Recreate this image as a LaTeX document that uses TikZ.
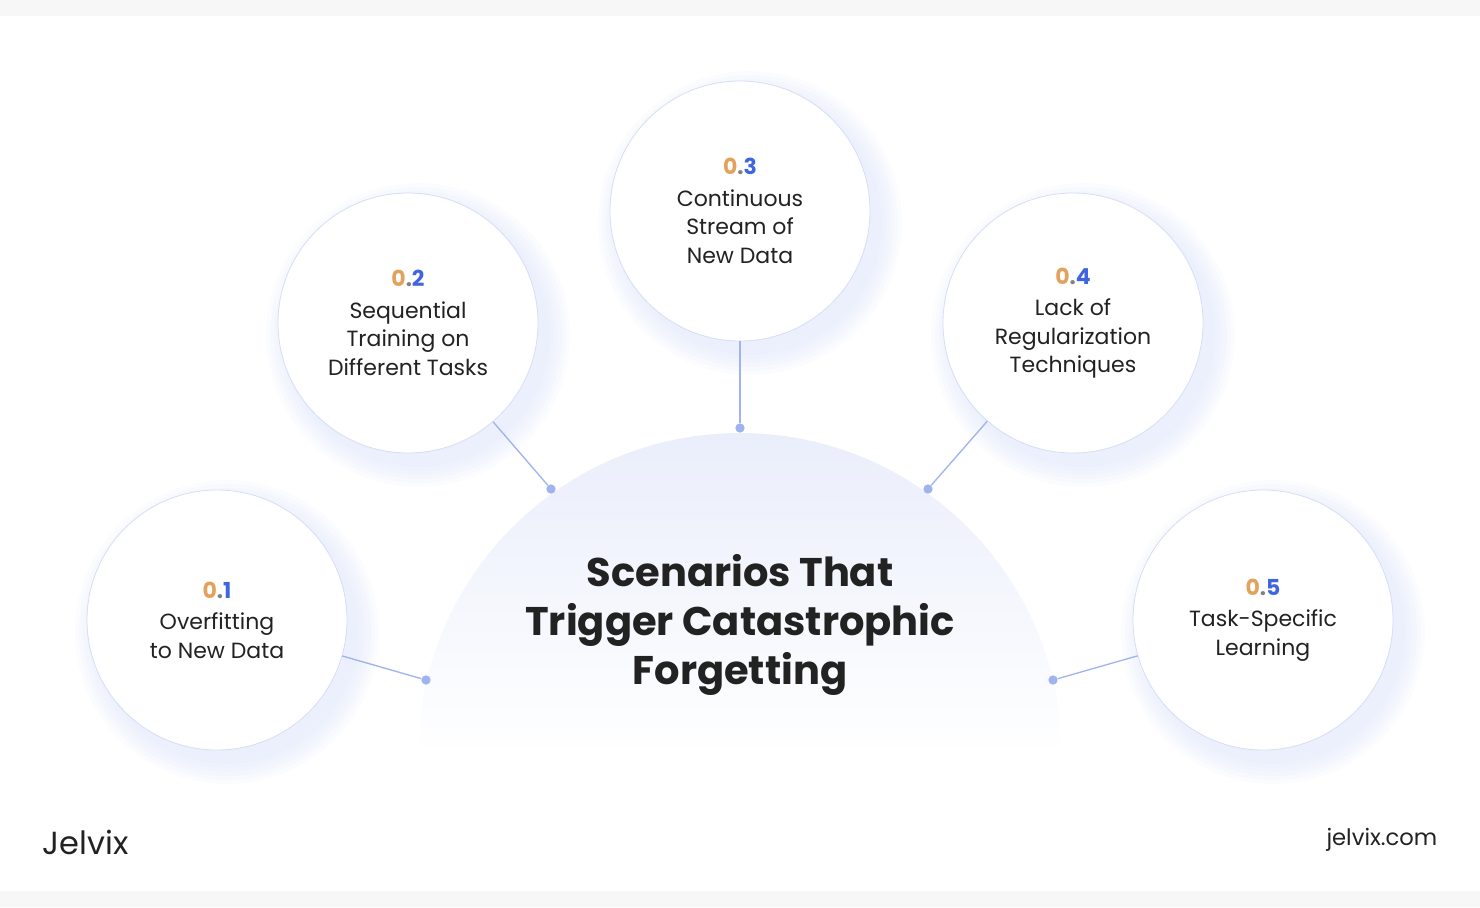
\documentclass[tikz,border=0pt]{standalone}
\usepackage{fontspec}
\setmainfont{Poppins}
\definecolor{numorange}{HTML}{E3A25C}
\definecolor{numblue}{HTML}{3F66E0}
\definecolor{ringline}{HTML}{D6DDF5}
\definecolor{linkblue}{HTML}{9FB3EE}
\definecolor{halfcol}{HTML}{EAEEFB}
\definecolor{txt}{HTML}{222222}
\definecolor{shadowblue}{HTML}{C9D4F6}
\tikzset{
  scen/.style={circle,minimum size=260*0.75pt,draw=ringline,line width=0.6pt,fill=white,
    align=center,text=txt,font=\fontsize{16.5}{21.5}\selectfont},
  dot/.style={circle,fill=linkblue,inner sep=0pt,minimum size=7pt},
  link/.style={draw=linkblue,line width=1pt}
}
\newcommand{\num}[1]{{\bfseries\textcolor{numorange}{0}\textcolor{gray}{.}\textcolor{numblue}{#1}}\\[2pt]}
\begin{document}
\begin{tikzpicture}[x=0.75pt,y=0.75pt,yscale=-1,xscale=1]
\useasboundingbox (0,0) rectangle (1480,907);
\fill[gray!6] (0,0) rectangle (1480,16);
\fill[gray!6] (0,891) rectangle (1480,907);
% half disc
\shade[top color=halfcol,bottom color=white] (418,755) arc[start angle=180,end angle=360,radius=322] -- cycle;
\node[text=txt,align=center,font=\bfseries\fontsize{30}{37}\selectfont] (title) at (740,625)
  {Scenarios That\\Trigger Catastrophic\\Forgetting};
% soft shadows
\foreach \cx/\cy in {217/620,408/323,740/211,1073/323,1263/620}
  \foreach \r in {132,136,...,152}
    \fill[shadowblue,opacity=0.07] (\cx+10,\cy+12) circle[radius=\r*0.75pt];
% dots
\node[dot] (d1) at (426,680) {};
\node[dot] (d2) at (551,489) {};
\node[dot] (d3) at (740,428) {};
\node[dot] (d4) at (928,489) {};
\node[dot] (d5) at (1053,680) {};
% circles
\node[scen] (s1) at (217,620) {\num{1}Overfitting\\to New Data};
\node[scen] (s2) at (408,323) {\num{2}Sequential\\Training on\\Different Tasks};
\node[scen] (s3) at (740,211) {\num{3}Continuous\\Stream of\\New Data};
\node[scen] (s4) at (1073,323) {\num{4}Lack of\\Regularization\\Techniques};
\node[scen] (s5) at (1263,620) {\num{5}Task-Specific\\Learning};
% links
\foreach \i in {1,...,5}
  \draw[link] (s\i) -- (d\i);
% footer
\node[text=txt,font=\fontsize{24}{24}\selectfont,anchor=west] (logo) at (38,842) {Jelvix};
\node[text=txt,font=\fontsize{17}{17}\selectfont,anchor=east] (site) at (1442,840) {jelvix.com};
\end{tikzpicture}
\end{document}
